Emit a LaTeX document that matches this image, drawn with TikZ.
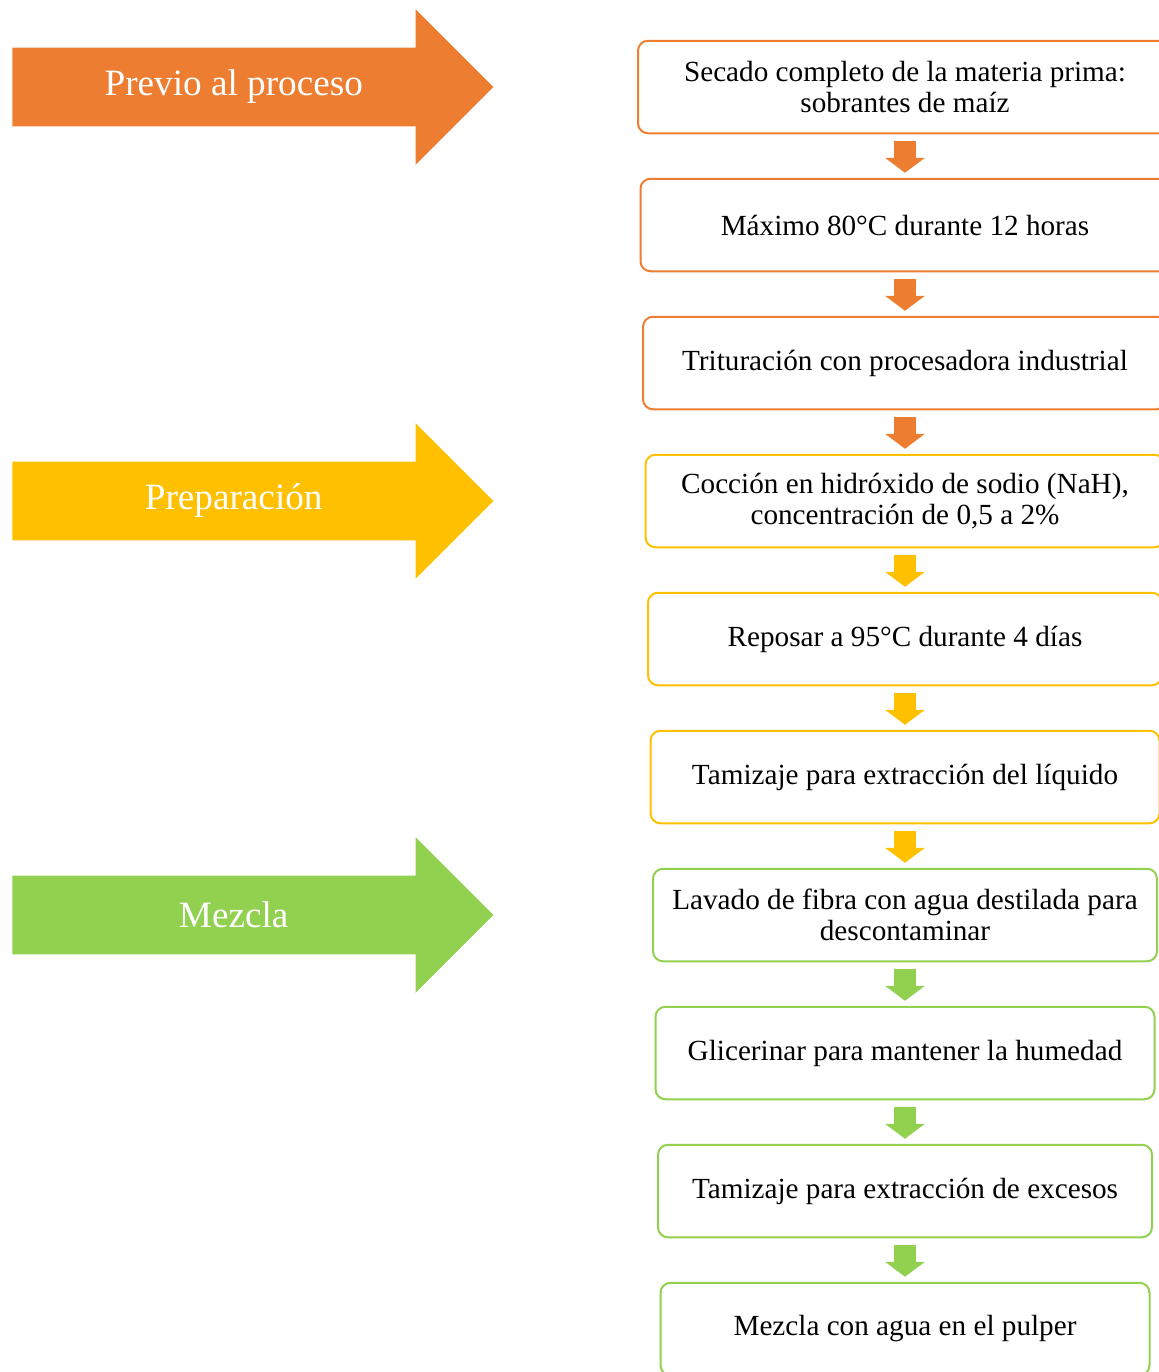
\documentclass[tikz,border=0pt]{standalone}
\usepackage{fontspec}
\setmainfont{Liberation Serif}
\usetikzlibrary{shapes,arrows.meta,positioning,calc}
\definecolor{naranja}{HTML}{ED7D31}
\definecolor{amarillo}{HTML}{FFC000}
\definecolor{verde}{HTML}{92D050}

\begin{document}
\begin{tikzpicture}[
  paso/.style={draw, rectangle, rounded corners=5pt, line width=1pt, minimum height=46.25pt, align=center, font=\fontsize{14.6pt}{15.5pt}\selectfont},
  fase/.style={single arrow, fill=#1, draw=none, minimum height=240.5pt, inner xsep=0pt, inner ysep=19.5pt, single arrow head extend=19.25pt, anchor=tail},
  etiqueta/.style={text=white, font=\fontsize{18.6pt}{20pt}\selectfont},
  flecha/.style={draw=#1, line width=11pt, -{Triangle[width=20pt,length=7.5pt,line width=0pt,fill=#1]}, shorten <=3.5pt, shorten >=2.5pt},
  node distance=21.75pt
]
\useasboundingbox (0,0) rectangle (579pt,-686pt);

% Pasos del proceso
\node[paso, draw=naranja, minimum width=267pt] (p1) at (452.5pt,-43.5pt) {Secado completo de la materia prima:\\ sobrantes de maíz};
\node[paso, draw=naranja, minimum width=264.5pt, below=of p1] (p2) {Máximo 80°C durante 12 horas};
\node[paso, draw=naranja, minimum width=262pt, below=of p2] (p3) {Trituración con procesadora industrial};
\node[paso, draw=amarillo, minimum width=259.5pt, below=of p3] (p4) {Cocción en hidróxido de sodio (NaH),\\ concentración de 0,5 a 2\%};
\node[paso, draw=amarillo, minimum width=257pt, below=of p4] (p5) {Reposar a 95°C durante 4 días};
\node[paso, draw=amarillo, minimum width=254.5pt, below=of p5] (p6) {Tamizaje para extracción del líquido};
\node[paso, draw=verde, minimum width=252pt, below=of p6] (p7) {Lavado de fibra con agua destilada para\\ descontaminar};
\node[paso, draw=verde, minimum width=249.5pt, below=of p7] (p8) {Glicerinar para mantener la humedad};
\node[paso, draw=verde, minimum width=247pt, below=of p8] (p9) {Tamizaje para extracción de excesos};
\node[paso, draw=verde, minimum width=244.5pt, below=of p9] (p10) {Mezcla con agua en el pulper};

% Fases
\coordinate (borde) at (6pt,0);
\node[fase=naranja] (a1) at (borde |- p1) {};
\node[fase=amarillo] (a2) at (borde |- p4) {};
\node[fase=verde] (a3) at (borde |- p7) {};
\node[etiqueta] (t1) at ($(a1.tail)!0.46!(a1.tip)$) {Previo al proceso};
\node[etiqueta] (t2) at ($(a2.tail)!0.46!(a2.tip)$) {Preparación};
\node[etiqueta] (t3) at ($(a3.tail)!0.46!(a3.tip)$) {Mezcla};

% Flechas entre pasos
\draw[flecha=naranja] (p1.south) -- (p2.north);
\draw[flecha=naranja] (p2.south) -- (p3.north);
\draw[flecha=naranja] (p3.south) -- (p4.north);
\draw[flecha=amarillo] (p4.south) -- (p5.north);
\draw[flecha=amarillo] (p5.south) -- (p6.north);
\draw[flecha=amarillo] (p6.south) -- (p7.north);
\draw[flecha=verde] (p7.south) -- (p8.north);
\draw[flecha=verde] (p8.south) -- (p9.north);
\draw[flecha=verde] (p9.south) -- (p10.north);
\end{tikzpicture}
\end{document}
